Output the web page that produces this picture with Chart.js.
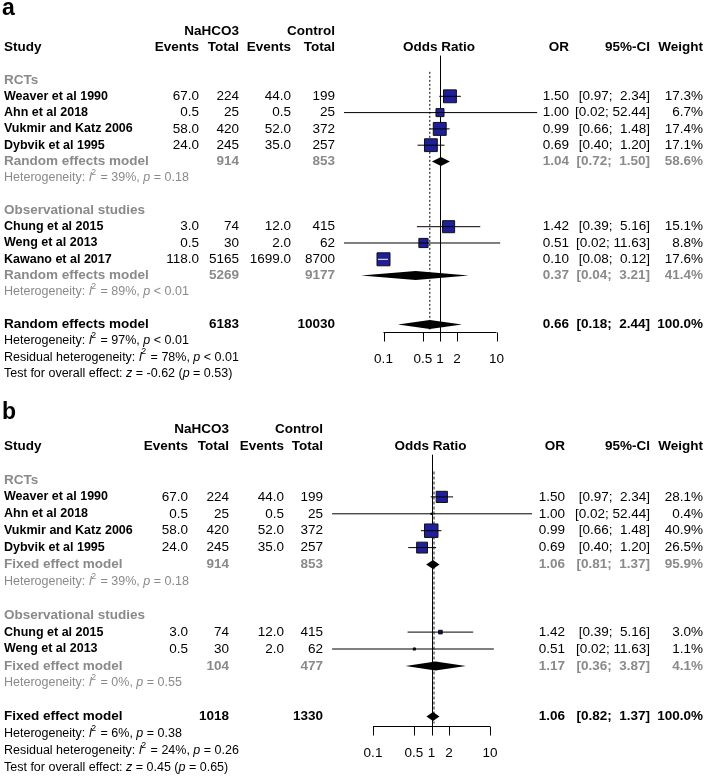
<!DOCTYPE html>
<html>
<head>
<meta charset="utf-8">
<script src="https://cdn.jsdelivr.net/npm/chart.js@4.4.0/dist/chart.umd.min.js"></script>
<style>
  html, body { margin: 0; padding: 0; background: #fff; }
  #wrap { position: relative; width: 708px; height: 777px; }
  canvas { position: absolute; left: 0; }
  #chartA { top: 0; }
  #chartB { top: 388px; }
</style>
</head>
<body>
<div id="wrap">
  <canvas id="chartA" width="708" height="388"></canvas>
  <canvas id="chartB" width="708" height="389"></canvas>
</div>
<script>
// ---------- panel a : random effects ----------
const studiesA = ['Weaver et al 1990', 'Ahn et al 2018', 'Vukmir and Katz 2006', 'Dybvik et al 1995',
                  'Chung et al 2015', 'Weng et al 2013', 'Kawano et al 2017'];
const subgroupOfA = [0, 0, 0, 0, 1, 1, 1];
const eventsTrtA = [67.0, 0.5, 58.0, 24.0, 3.0, 0.5, 118.0];
const totalTrtA = [224, 25, 420, 245, 74, 30, 5165];
const eventsCtlA = [44.0, 0.5, 52.0, 35.0, 12.0, 2.0, 1699.0];
const totalCtlA = [199, 25, 372, 257, 415, 62, 8700];
const orA = [1.50, 1.00, 0.99, 0.69, 1.42, 0.51, 0.10];
const lowerA = [0.97, 0.02, 0.66, 0.40, 0.39, 0.02, 0.08];
const upperA = [2.34, 52.44, 1.48, 1.20, 5.16, 11.63, 0.12];
const weightA = [17.3, 6.7, 17.4, 17.1, 15.1, 8.8, 17.6];

const subgroupsA = ['RCTs', 'Observational studies'];
const subTotalTrtA = [914, 5269];
const subTotalCtlA = [853, 9177];
const subOrA = [1.04, 0.37];
const subLowerA = [0.72, 0.04];
const subUpperA = [1.50, 3.21];
const subWeightA = [58.6, 41.4];
const subI2A = [39, 89];
const subPA = ['= 0.18', '< 0.01'];

const overallA = [6183, 10030, 0.66, 0.18, 2.44, 100.0];   // totals, OR, lower, upper, weight
const overallHetA = [97, '< 0.01'];
const residualHetA = [78, '< 0.01'];
const overallTestA = ['-0.62', '0.53'];

// ---------- panel b : fixed effect ----------
const studiesB = ['Weaver et al 1990', 'Ahn et al 2018', 'Vukmir and Katz 2006', 'Dybvik et al 1995',
                  'Chung et al 2015', 'Weng et al 2013'];
const subgroupOfB = [0, 0, 0, 0, 1, 1];
const eventsTrtB = [67.0, 0.5, 58.0, 24.0, 3.0, 0.5];
const totalTrtB = [224, 25, 420, 245, 74, 30];
const eventsCtlB = [44.0, 0.5, 52.0, 35.0, 12.0, 2.0];
const totalCtlB = [199, 25, 372, 257, 415, 62];
const orB = [1.50, 1.00, 0.99, 0.69, 1.42, 0.51];
const lowerB = [0.97, 0.02, 0.66, 0.40, 0.39, 0.02];
const upperB = [2.34, 52.44, 1.48, 1.20, 5.16, 11.63];
const weightB = [28.1, 0.4, 40.9, 26.5, 3.0, 1.1];

const subgroupsB = ['RCTs', 'Observational studies'];
const subTotalTrtB = [914, 104];
const subTotalCtlB = [853, 477];
const subOrB = [1.06, 1.17];
const subLowerB = [0.81, 0.36];
const subUpperB = [1.37, 3.87];
const subWeightB = [95.9, 4.1];
const subI2B = [39, 0];
const subPB = ['= 0.18', '= 0.55'];

const overallB = [1018, 1330, 1.06, 0.82, 1.37, 100.0];
const overallHetB = [6, '= 0.38'];
const residualHetB = [24, '= 0.26'];
const overallTestB = ['0.45', '0.65'];

// axis ticks (both panels)
const tickValues = [0.1, 0.5, 1, 2, 10];
const tickLabels = ['0.1', '0.5', '1', '2', '10'];

// ---------- drawing helpers ----------
const FF = '"Liberation Sans", Arial, Helvetica, sans-serif';
const GRAY = '#8a8a8a';
const SQUARE = '#1f1f99';

function fmtCi(lo, hi) {
    return '[' + lo.toFixed(2).padStart(4, ' ') + '; ' + hi.toFixed(2).padStart(5, ' ') + ']';
}

function text(ctx, s, x, y, align, font, color) {
    ctx.font = font;
    ctx.fillStyle = color;
    ctx.textAlign = align;
    ctx.textBaseline = 'middle';
    ctx.fillText(s, x, y);
}

// parts: [string, style] with style '' | 'i' | 'sup'
function richText(ctx, parts, x, y, size, color) {
    ctx.fillStyle = color;
    ctx.textAlign = 'left';
    ctx.textBaseline = 'middle';
    let cx = x;
    parts.forEach(([s, st]) => {
        if (st === 'sup') {
            ctx.font = `${size * 0.7}px ${FF}`;
            ctx.fillText(s, cx - 1, y - size * 0.42);
        } else {
            ctx.font = (st === 'i' ? 'italic ' : '') + `${size}px ${FF}`;
            ctx.fillText(s, cx, y);
        }
        cx += ctx.measureText(s).width;
    });
}

function hetParts(label, i2, p) {
    return [[label, ''], ['I', 'i'], ['2', 'sup'], [` = ${i2}%, `, ''], ['p', 'i'], [` ${p}`, '']];
}

function layoutRows(subgroupOf, nSub) {
    let r = 0;
    const study = [], head = [], sum = [], het = [];
    for (let g = 0; g < nSub; g++) {
        head.push(r++);
        subgroupOf.forEach((sg, i) => { if (sg === g) study[i] = r++; });
        sum.push(r++);
        het.push(r++);
        r++;
    }
    return { study, head, sum, het, overall: r };
}

function makePanel(canvasId, d, L) {
    const rows = layoutRows(d.subgroupOf, d.subgroups.length);
    const maxW = Math.max(...d.weight);
    const side = w => L.maxSide * Math.sqrt(w / maxW);

    const datasets = [{
        data: d.or.map((v, i) => ({ x: v, y: rows.study[i] })),
        pointStyle: 'rect',
        pointRadius: d.weight.map(w => Math.max(side(w), 1.2) / Math.SQRT2),
        backgroundColor: SQUARE,
        borderColor: '#111',
        borderWidth: 1,
        order: 2
    }];
    d.lower.forEach((lo, i) => {
        datasets.push({
            data: [{ x: lo, y: rows.study[i] }, { x: d.upper[i], y: rows.study[i] }],
            showLine: true,
            pointRadius: 0,
            borderWidth: 1,
            borderColor: c => {
                const xs = c.chart.scales.x;
                if (!xs) return '#000';
                const wpx = xs.getPixelForValue(d.upper[i]) - xs.getPixelForValue(lo);
                return wpx < side(d.weight[i]) ? '#fff' : '#000';
            },
            order: 1
        });
    });

    const C = L.cols;
    const forest = {
        id: 'forest' + canvasId,
        beforeDatasetsDraw(chart) {
            const { ctx, scales: { x, y } } = chart;
            const x1 = Math.round(x.getPixelForValue(1)) + 0.5;
            const axisY = Math.round(y.getPixelForValue(rows.overall) + L.axisGap) + 0.5;
            ctx.save();
            ctx.strokeStyle = '#000';
            ctx.lineWidth = 1;
            ctx.beginPath();
            ctx.moveTo(x1, y.getPixelForValue(-1.5));
            ctx.lineTo(x1, axisY);
            ctx.stroke();
            const xp = x.getPixelForValue(d.overall[2]) + L.pooledShift;
            ctx.strokeStyle = L.pooledColor;
            ctx.lineWidth = L.pooledWidth;
            ctx.setLineDash(L.pooledDash);
            ctx.beginPath();
            ctx.moveTo(xp, y.getPixelForValue(-0.5));
            ctx.lineTo(xp, axisY - 3);
            ctx.stroke();
            ctx.restore();
        },
        afterDatasetsDraw(chart) {
            const { ctx, scales: { x, y } } = chart;
            ctx.save();
            // diamonds
            const diamond = (est, lo, hi, r) => {
                const yy = y.getPixelForValue(r);
                ctx.beginPath();
                ctx.moveTo(x.getPixelForValue(lo), yy);
                ctx.lineTo(x.getPixelForValue(est), yy - L.diamondH);
                ctx.lineTo(x.getPixelForValue(hi), yy);
                ctx.lineTo(x.getPixelForValue(est), yy + L.diamondH);
                ctx.closePath();
                ctx.fillStyle = '#000';
                ctx.fill();
            };
            d.subOr.forEach((v, g) => diamond(v, d.subLower[g], d.subUpper[g], rows.sum[g]));
            diamond(d.overall[2], d.overall[3], d.overall[4], rows.overall);

            // axis
            const axisY = Math.round(y.getPixelForValue(rows.overall) + L.axisGap) + 0.5;
            ctx.strokeStyle = '#000';
            ctx.lineWidth = 1;
            ctx.beginPath();
            ctx.moveTo(x.getPixelForValue(tickValues[0]), axisY);
            ctx.lineTo(x.getPixelForValue(tickValues[tickValues.length - 1]), axisY);
            tickValues.forEach(t => {
                const tx = Math.round(x.getPixelForValue(t)) + 0.5;
                ctx.moveTo(tx, axisY);
                ctx.lineTo(tx, axisY + 9);
            });
            ctx.stroke();
            tickValues.forEach((t, i) => text(ctx, tickLabels[i], x.getPixelForValue(t), axisY + 27, 'center', `13.5px ${FF}`, '#000'));

            // texts
            const B = `bold 13.5px ${FF}`, R = `13.5px ${FF}`, S = `bold 12.5px ${FF}`;
            const py = r => y.getPixelForValue(r);
            text(ctx, L.label, 2, py(L.labelRow), 'left', `bold 23px ${FF}`, '#000');
            text(ctx, 'NaHCO3', C.tot1, py(-3), 'right', B, '#000');
            text(ctx, 'Control', C.tot2, py(-3), 'right', B, '#000');
            text(ctx, 'Study', 4, py(-2), 'left', B, '#000');
            text(ctx, 'Events', C.ev1, py(-2), 'right', B, '#000');
            text(ctx, 'Total', C.tot1, py(-2), 'right', B, '#000');
            text(ctx, 'Events', C.ev2, py(-2), 'right', B, '#000');
            text(ctx, 'Total', C.tot2, py(-2), 'right', B, '#000');
            text(ctx, 'Odds Ratio', x.getPixelForValue(1) - 1, py(-2), 'center', B, '#000');
            text(ctx, 'OR', C.or, py(-2), 'right', B, '#000');
            text(ctx, '95%-CI', C.ci, py(-2), 'right', B, '#000');
            text(ctx, 'Weight', C.w, py(-2), 'right', B, '#000');

            d.subgroups.forEach((name, g) => {
                text(ctx, name, 4, py(rows.head[g]), 'left', B, GRAY);
                const rs = rows.sum[g];
                text(ctx, d.model, 4, py(rs), 'left', B, GRAY);
                text(ctx, String(d.subTotTrt[g]), C.tot1, py(rs), 'right', B, GRAY);
                text(ctx, String(d.subTotCtl[g]), C.tot2, py(rs), 'right', B, GRAY);
                text(ctx, d.subOr[g].toFixed(2), C.or, py(rs), 'right', B, GRAY);
                text(ctx, fmtCi(d.subLower[g], d.subUpper[g]), C.ci, py(rs), 'right', B, GRAY);
                text(ctx, d.subWeight[g].toFixed(1) + '%', C.w, py(rs), 'right', B, GRAY);
                richText(ctx, hetParts('Heterogeneity: ', d.subI2[g], d.subP[g]), 4, py(rows.het[g]), 12.5, GRAY);
            });

            d.studies.forEach((name, i) => {
                const rr = py(rows.study[i]);
                text(ctx, name, 4, rr, 'left', S, '#000');
                text(ctx, d.evTrt[i].toFixed(1), C.ev1, rr, 'right', R, '#000');
                text(ctx, String(d.totTrt[i]), C.tot1, rr, 'right', R, '#000');
                text(ctx, d.evCtl[i].toFixed(1), C.ev2, rr, 'right', R, '#000');
                text(ctx, String(d.totCtl[i]), C.tot2, rr, 'right', R, '#000');
                text(ctx, d.or[i].toFixed(2), C.or, rr, 'right', R, '#000');
                text(ctx, fmtCi(d.lower[i], d.upper[i]), C.ci, rr, 'right', R, '#000');
                text(ctx, d.weight[i].toFixed(1) + '%', C.w, rr, 'right', R, '#000');
            });

            const ro = rows.overall;
            text(ctx, d.model, 4, py(ro), 'left', B, '#000');
            text(ctx, String(d.overall[0]), C.tot1, py(ro), 'right', B, '#000');
            text(ctx, String(d.overall[1]), C.tot2, py(ro), 'right', B, '#000');
            text(ctx, d.overall[2].toFixed(2), C.or, py(ro), 'right', B, '#000');
            text(ctx, fmtCi(d.overall[3], d.overall[4]), C.ci, py(ro), 'right', B, '#000');
            text(ctx, d.overall[5].toFixed(1) + '%', C.w, py(ro), 'right', B, '#000');
            richText(ctx, hetParts('Heterogeneity: ', d.het[0], d.het[1]), 4, py(ro + 1), 12.5, '#000');
            richText(ctx, hetParts('Residual heterogeneity: ', d.resid[0], d.resid[1]), 4, py(ro + 2), 12.5, '#000');
            richText(ctx, [['Test for overall effect: ', ''], ['z', 'i'], [` = ${d.test[0]} (`, ''], ['p', 'i'], [` = ${d.test[1]})`, '']],
                     4, py(ro + 3), 12.5, '#000');
            ctx.restore();
        }
    };

    return new Chart(document.getElementById(canvasId), {
        type: 'scatter',
        data: { datasets },
        options: {
            responsive: false,
            animation: false,
            events: [],
            layout: { autoPadding: false, padding: { left: L.padLeft, right: L.padRight, top: 0, bottom: 0 } },
            plugins: { legend: { display: false }, tooltip: { enabled: false } },
            scales: {
                x: { type: 'logarithmic', min: 0.01, max: 100, display: false },
                y: { type: 'linear', min: L.yMin, max: L.yMax, reverse: true, display: false }
            }
        },
        plugins: [forest]
    });
}

makePanel('chartA', {
    studies: studiesA, subgroupOf: subgroupOfA, evTrt: eventsTrtA, totTrt: totalTrtA,
    evCtl: eventsCtlA, totCtl: totalCtlA, or: orA, lower: lowerA, upper: upperA, weight: weightA,
    subgroups: subgroupsA, subTotTrt: subTotalTrtA, subTotCtl: subTotalCtlA, subOr: subOrA,
    subLower: subLowerA, subUpper: subUpperA, subWeight: subWeightA, subI2: subI2A, subP: subPA,
    overall: overallA, het: overallHetA, resid: residualHetA, test: overallTestA,
    model: 'Random effects model'
}, {
    label: 'a', labelRow: -4.35,
    cols: { ev1: 199, tot1: 239, ev2: 291, tot2: 335, or: 569, ci: 650, w: 703 },
    padLeft: 327, padRight: 155, yMin: -4.908, yMax: 18.896,
    maxSide: 13, diamondH: 4.5, axisGap: 8,
    pooledDash: [2, 2], pooledColor: '#000', pooledWidth: 1, pooledShift: 0
});

makePanel('chartB', {
    studies: studiesB, subgroupOf: subgroupOfB, evTrt: eventsTrtB, totTrt: totalTrtB,
    evCtl: eventsCtlB, totCtl: totalCtlB, or: orB, lower: lowerB, upper: upperB, weight: weightB,
    subgroups: subgroupsB, subTotTrt: subTotalTrtB, subTotCtl: subTotalCtlB, subOr: subOrB,
    subLower: subLowerB, subUpper: subUpperB, subWeight: subWeightB, subI2: subI2B, subP: subPB,
    overall: overallB, het: overallHetB, resid: residualHetB, test: overallTestB,
    model: 'Fixed effect model'
}, {
    label: 'b', labelRow: -4.0,
    cols: { ev1: 188, tot1: 229, ev2: 284, tot2: 323, or: 565, ci: 650, w: 703 },
    padLeft: 314.5, padRight: 159.5, yMin: -5.444, yMax: 17.574,
    maxSide: 13.5, diamondH: 4.5, axisGap: 9,
    pooledDash: [3, 2], pooledColor: '#8c8c8c', pooledWidth: 2, pooledShift: 1
});
</script>
</body>
</html>
